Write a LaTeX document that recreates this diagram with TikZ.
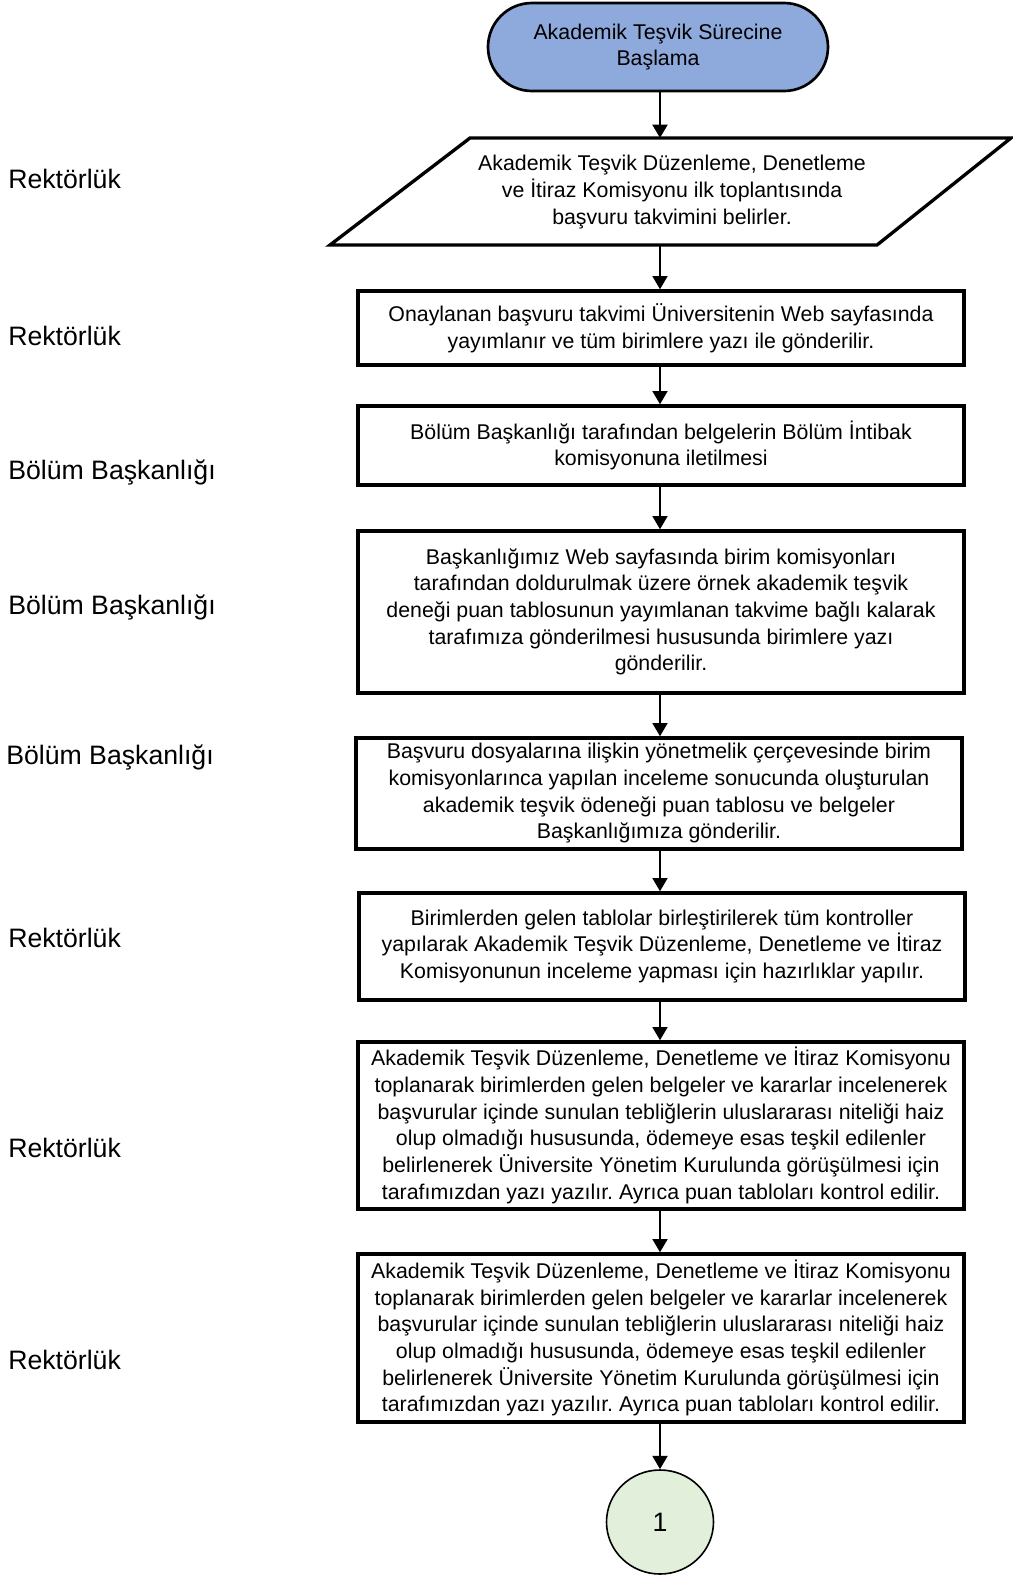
\documentclass[tikz,border=0pt]{standalone}
\usepackage{fontspec}
\setmainfont{Liberation Sans}
\usetikzlibrary{shapes.misc,shapes.geometric,arrows.meta}
\definecolor{startblue}{HTML}{8EA9DB}
\definecolor{endgreen}{HTML}{E2EFDA}
\tikzset{
  body/.style={font=\fontsize{16}{20}\selectfont, align=center},
  procbox/.style={body, draw, line width=2.5pt, rectangle, minimum width=454.5pt, inner sep=0pt},
  lane/.style={font=\fontsize{20}{24}\selectfont, anchor=west, inner sep=0pt},
  arr/.style={line width=2.2pt, -{Triangle[width=11pt,length=10pt]}},
}
\begin{document}
\frenchspacing
\begin{tikzpicture}[x=0.75pt,y=-0.75pt]
\useasboundingbox (0,0) rectangle (1013,1575);
% start
\node[body, rounded rectangle, draw, line width=2pt, fill=startblue,
      minimum width=255pt, minimum height=66pt, inner sep=0pt] (start) at (658,47)
  {Akademik Teşvik Sürecine\\Başlama};
% parallelogram
\draw[line width=2.5pt] (470,138) -- (1011,138) -- (877,245) -- (330,245) -- cycle;
\coordinate (ptop) at (660,138);
\coordinate (pbot) at (660,245);
\node[body] (para) at (672,192)
  {Akademik Teşvik Düzenleme, Denetleme\\ve İtiraz Komisyonu ilk toplantısında\\başvuru takvimini belirler.};
% process boxes
\node[procbox, minimum height=55.5pt] (b2) at (661,328)
  {Onaylanan başvuru takvimi Üniversitenin Web sayfasında\\yayımlanır ve tüm birimlere yazı ile gönderilir.};
\node[procbox, minimum height=59.25pt] (b3) at (661,445.5)
  {Bölüm Başkanlığı tarafından belgelerin Bölüm İntibak\\komisyonuna iletilmesi};
\node[procbox, minimum height=121.5pt] (b4) at (661,612)
  {Başkanlığımız Web sayfasında birim komisyonları\\tarafından doldurulmak üzere örnek akademik teşvik\\deneği puan tablosunun yayımlanan takvime bağlı kalarak\\tarafımıza gönderilmesi hususunda birimlere yazı\\gönderilir.};
\node[procbox, minimum height=83.25pt] (b5) at (659,793.5)
  {Başvuru dosyalarına ilişkin yönetmelik çerçevesinde birim\\komisyonlarınca yapılan inceleme sonucunda oluşturulan\\akademik teşvik ödeneği puan tablosu ve belgeler\\Başkanlığımıza gönderilir.};
\node[procbox, minimum height=80.25pt] (b6) at (662,946.5)
  {Birimlerden gelen tablolar birleştirilerek tüm kontroller\\yapılarak Akademik Teşvik Düzenleme, Denetleme ve İtiraz\\Komisyonunun inceleme yapması için hazırlıklar yapılır.};
\node[procbox, minimum height=125.25pt] (b7) at (661,1125.5)
  {Akademik Teşvik Düzenleme, Denetleme ve İtiraz Komisyonu\\toplanarak birimlerden gelen belgeler ve kararlar incelenerek\\başvurular içinde sunulan tebliğlerin uluslararası niteliği haiz\\olup olmadığı hususunda, ödemeye esas teşkil edilenler\\belirlenerek Üniversite Yönetim Kurulunda görüşülmesi için\\tarafımızdan yazı yazılır. Ayrıca puan tabloları kontrol edilir.};
\node[procbox, minimum height=126pt] (b8) at (661,1338)
  {Akademik Teşvik Düzenleme, Denetleme ve İtiraz Komisyonu\\toplanarak birimlerden gelen belgeler ve kararlar incelenerek\\başvurular içinde sunulan tebliğlerin uluslararası niteliği haiz\\olup olmadığı hususunda, ödemeye esas teşkil edilenler\\belirlenerek Üniversite Yönetim Kurulunda görüşülmesi için\\tarafımızdan yazı yazılır. Ayrıca puan tabloları kontrol edilir.};
% connector circle
\node[ellipse, draw, line width=1.2pt, fill=endgreen, font=\fontsize{20}{24}\selectfont,
      minimum width=80.25pt, minimum height=78pt, inner sep=0pt] (conn) at (660,1522) {1};
% arrows
\draw[arr] (start.south -| pbot) -- (ptop);
\draw[arr] (pbot) -- (pbot |- b2.north);
\draw[arr] (b2.south -| pbot) -- (pbot |- b3.north);
\draw[arr] (b3.south -| pbot) -- (pbot |- b4.north);
\draw[arr] (b4.south -| pbot) -- (pbot |- b5.north);
\draw[arr] (b5.south -| pbot) -- (pbot |- b6.north);
\draw[arr] (b6.south -| pbot) -- (pbot |- b7.north);
\draw[arr] (b7.south -| pbot) -- (pbot |- b8.north);
\draw[arr] (b8.south -| pbot) -- (conn.north);
% lane labels
\node[lane] (l1) at (8,179) {Rektörlük};
\node[lane] (l2) at (8,336) {Rektörlük};
\node[lane] (l3) at (8,472) {Bölüm Başkanlığı};
\node[lane] (l4) at (8,607) {Bölüm Başkanlığı};
\node[lane] (l5) at (6,757) {Bölüm Başkanlığı};
\node[lane] (l6) at (8,938) {Rektörlük};
\node[lane] (l7) at (8,1148) {Rektörlük};
\node[lane] (l8) at (8,1360) {Rektörlük};
\end{tikzpicture}
\end{document}
